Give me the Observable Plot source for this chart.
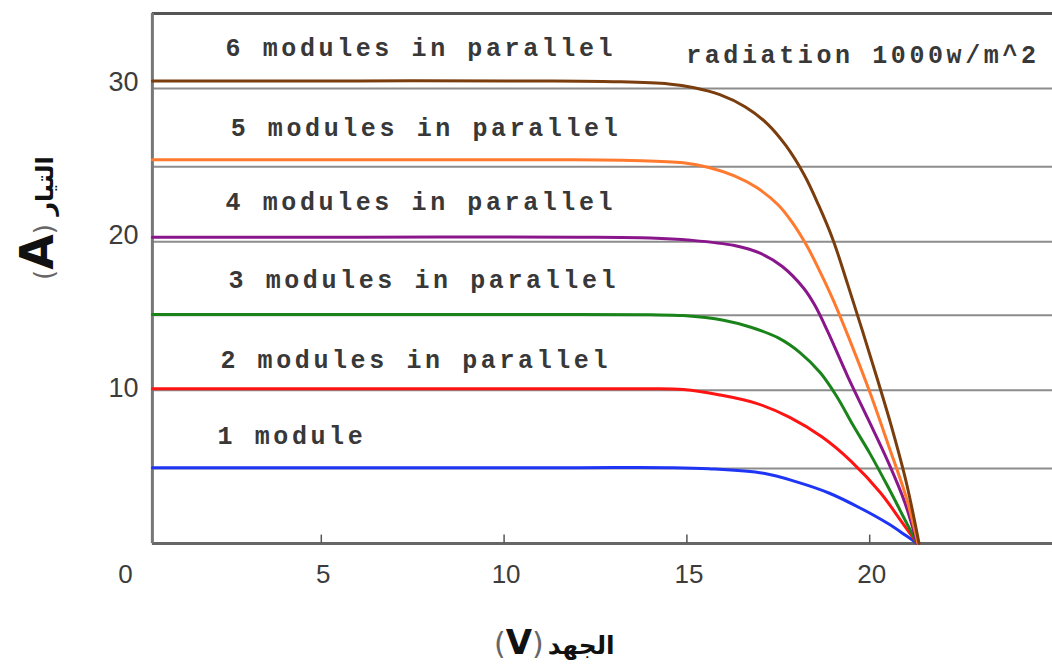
<!DOCTYPE html>
<html>
<head>
<meta charset="utf-8">
<script src="https://cdn.jsdelivr.net/npm/d3@7"></script>
<script src="https://cdn.jsdelivr.net/npm/@observablehq/plot@0.6"></script>
<style>
  html, body { margin: 0; padding: 0; background: #fff; }
</style>
</head>
<body>
<div id="chart"></div>
<script>
// ---- data ----
const seriesNames = ["1 module", "2 modules", "3 modules", "4 modules", "5 modules", "6 modules"];
const seriesColors = ["#1f35f5", "#ff1414", "#1a841a", "#8a168c", "#ff7a2e", "#7a3d0e"];

const volt1 = [0.38, 6, 12, 14.5, 15.6, 17.1, 18.0, 18.9, 19.75, 20.5, 21.0, 21.3];
const curr1 = [4.95, 4.95, 4.95, 4.95, 4.88, 4.58, 4.02, 3.28, 2.3, 1.3, 0.5, 0];

const volt2 = [0.38, 6, 12, 14.0, 14.9, 15.9, 16.9, 17.8, 18.7, 19.5, 20.3, 20.85, 21.3];
const curr2 = [10.1, 10.1, 10.1, 10.1, 10.05, 9.7, 9.15, 8.25, 6.95, 5.35, 3.3, 1.5, 0];

const volt3 = [0.38, 6, 12, 14.0, 14.9, 16.0, 16.75, 17.5, 18.1, 18.65, 19.1, 19.55, 20.0, 20.5, 20.92, 21.3];
const curr3 = [14.95, 14.95, 14.95, 14.93, 14.88, 14.58, 14.12, 13.42, 12.45, 11.15, 9.6, 7.7, 5.9, 3.7, 1.75, 0];

const volt4 = [0.38, 6, 12, 14.0, 15.1, 16.3, 17.0, 17.6, 18.2, 18.5, 18.85, 19.4, 19.95, 20.5, 20.95, 21.3];
const curr4 = [20.0, 20.0, 20.0, 19.95, 19.8, 19.45, 18.95, 18.1, 16.65, 15.55, 13.85, 10.9, 8.15, 5.35, 2.75, 0];

const volt5 = [0.38, 6, 11.5, 13.5, 14.9, 15.6, 16.3, 16.9, 17.5, 17.9, 18.3, 18.65, 19.0, 19.5, 20.0, 20.5, 21.0, 21.32];
const curr5 = [25.05, 25.05, 25.05, 25.0, 24.85, 24.55, 24.0, 23.25, 22.1, 20.9, 19.35, 17.7, 15.9, 13.0, 9.9, 6.5, 3.0, 0];

const volt6 = [0.38, 6, 11, 13.0, 14.5, 15.2, 15.9, 16.6, 17.2, 17.7, 18.2, 18.6, 19.0, 19.4, 19.8, 20.2, 20.6, 21.0, 21.35];
const curr6 = [30.2, 30.2, 30.2, 30.15, 30.0, 29.75, 29.3, 28.5, 27.4, 26.0, 24.1, 22.1, 19.8, 16.9, 13.9, 10.8, 7.6, 4.0, 0];

const xTickLabels = [5, 10, 15, 20];
const xOriginLabel = [0];
const xTickMarks = [5, 10, 15, 20];
const yTickLabels = [10, 20, 30];
const gridValues = [4.9, 10, 14.9, 19.7, 24.6, 29.7];

const noteTexts = ["6 modules in parallel", "5 modules in parallel", "4 modules in parallel",
                   "3 modules in parallel", "2 modules in parallel", "1 module", "radiation 1000w/m^2"];
const noteX = [2.38, 2.52, 2.38, 2.46, 2.24, 2.16, 14.98];
const noteY = [32.35, 27.1, 22.3, 17.2, 12.0, 7.0, 31.9];

const xTitleArabic = "الجهد";
const xTitleUnit = "V";
const yTitleArabic = "التيار";
const yTitleUnit = "A";

// ---- build tables ----
const volts = [volt1, volt2, volt3, volt4, volt5, volt6];
const currs = [curr1, curr2, curr3, curr4, curr5, curr6];
const curves = [];
volts.forEach((vs, k) => vs.forEach((v, i) => curves.push({series: seriesNames[k], v, i: currs[k][i]})));
const notes = noteTexts.map((t, k) => ({t, x: noteX[k], y: noteY[k]}));

const W = 1052, H = 668;
const monoFont = "'Liberation Mono', 'DejaVu Sans Mono', monospace";
const sansFont = "'Liberation Sans', Arial, sans-serif";

const svg = Plot.plot({
  width: W,
  height: H,
  marginTop: 13,
  marginBottom: 125,
  marginLeft: 138,
  marginRight: 0,
  x: {domain: [0, 25], axis: null},
  y: {domain: [0, 34.6], axis: null},
  color: {domain: seriesNames, range: seriesColors},
  style: {background: "#fff", overflow: "visible"},
  marks: [
    Plot.ruleY(gridValues, {x1: 0.38, x2: 25, stroke: "#8c8c8c", strokeWidth: 2}),
    Plot.ruleY([34.6], {x1: 0.38, x2: 25, stroke: "#555", strokeWidth: 3}),
    Plot.ruleY([0], {x1: 0.38, x2: 25, stroke: "#666", strokeWidth: 3}),
    Plot.ruleX([0.38], {y1: 0, y2: 34.6, stroke: "#777", strokeWidth: 3}),
    Plot.ruleX(xTickMarks, {y1: 0, y2: 0.55, stroke: "#555", strokeWidth: 1.5}),
    Plot.line(curves, {x: "v", y: "i", z: "series", stroke: "series", strokeWidth: 3, curve: "catmull-rom"}),
    Plot.text(notes, {x: "x", y: "y", text: "t", textAnchor: "start", fontFamily: monoFont,
      fontSize: 25, fontWeight: "bold", fill: "#383838"}),
    Plot.text(xTickLabels, {x: d => d, y: 0, dy: 31, dx: 2, text: d => String(d), fontFamily: sansFont,
      fontSize: 26, fill: "#3c3c3c", textAnchor: "middle"}),
    Plot.text(xOriginLabel, {x: d => d, y: 0, dy: 31, dx: -13, text: d => String(d), fontFamily: sansFont,
      fontSize: 26, fill: "#3c3c3c", textAnchor: "middle"}),
    Plot.text(yTickLabels, {x: 0, y: d => d, dx: 0, dy: -2, text: d => String(d), fontFamily: sansFont,
      fontSize: 27, fill: "#3c3c3c", textAnchor: "end"})
  ]
});

// letter spacing on annotation texts
d3.select(svg).selectAll("text").filter(function() { return /module|radiation/.test(this.textContent); })
  .style("letter-spacing", "3.6px");

// axis titles
const s = d3.select(svg);
const xt = s.append("text")
  .attr("x", 494).attr("y", 654)
  .attr("font-family", "'DejaVu Sans', sans-serif")
  .attr("fill", "#111")
  .attr("text-anchor", "start");
xt.append("tspan").attr("font-size", 30).attr("fill", "#666").text("(");
xt.append("tspan").attr("font-size", 34).attr("font-weight", "bold").text(xTitleUnit);
xt.append("tspan").attr("font-size", 30).attr("fill", "#666").text(")");
xt.append("tspan").attr("font-size", 25).attr("font-weight", "bold").attr("dx", 4).text(xTitleArabic);

const yt = s.append("text")
  .attr("transform", "translate(53,280) rotate(-90)")
  .attr("font-family", "'DejaVu Sans', sans-serif")
  .attr("fill", "#111")
  .attr("text-anchor", "start");
yt.append("tspan").attr("font-size", 26).attr("fill", "#666").text("(");
yt.append("tspan").attr("font-size", 46).attr("font-weight", "bold").text(yTitleUnit);
yt.append("tspan").attr("font-size", 26).attr("fill", "#666").text(") ");
yt.append("tspan").attr("font-size", 24).attr("font-weight", "bold").text(yTitleArabic);

document.getElementById("chart").appendChild(svg);
</script>
</body>
</html>
